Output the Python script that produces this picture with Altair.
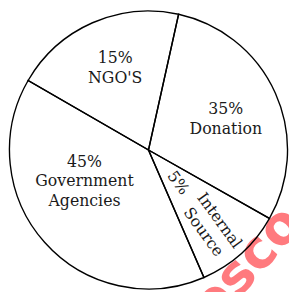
import math
import altair as alt
import pandas as pd

# Slices in drawing order (clockwise from the first radius line near the top)
categories = ["Donation", "Internal Source", "Government Agencies", "NGO'S"]
percent_labels = ["35%", "5%", "45%", "15%"]
name_labels = ["Donation", "Internal\nSource", "Government\nAgencies", "NGO'S"]
# sizes of the slices as drawn in the picture (degrees)
slice_degrees = [107, 37, 143.5, 72.5]
START_DEG = 12.5

df = pd.DataFrame({
    "category": categories,
    "pct": percent_labels,
    "name": name_labels,
    "deg": slice_degrees,
    "order": list(range(len(categories))),
})
df["label"] = df["pct"] + "\n" + df["name"]

start = math.radians(START_DEG)
theta_scale = alt.Scale(domain=[0, 360], range=[start, start + 2 * math.pi], nice=False, zero=True)

base = (
    alt.Chart(df)
    .transform_window(t1="sum(deg)", sort=[alt.SortField("order")], frame=[None, 0])
    .transform_calculate(t0="datum.t1 - datum.deg", mid="datum.t1 - datum.deg / 2")
)

arcs = base.mark_arc(
    radius=141.5, stroke="black", strokeWidth=1.4, fill="white", fillOpacity=0
).encode(
    theta=alt.Theta("t0:Q", scale=theta_scale, stack=False),
    theta2="t1:Q",
)

TEXT_STYLE = dict(font="DejaVu Serif", fontSize=16, lineBreak="\n", lineHeight=20,
                  color="#1a1a1a", align="center", baseline="middle")


def label_layer(cat, field, radius, dx=0, dy=0, angle=0):
    return base.transform_filter(alt.datum.category == cat).mark_text(
        radius=radius, dx=dx, dy=dy, angle=angle, **TEXT_STYLE
    ).encode(
        theta=alt.Theta("mid:Q", scale=theta_scale, stack=False),
        text=alt.Text(f"{field}:N"),
    )


labels = [
    label_layer("NGO'S", "label", 89, dx=2, dy=-12),
    label_layer("Donation", "label", 85, dx=1, dy=-7),
    label_layer("Government Agencies", "label", 90, dx=2, dy=-48),
    label_layer("Internal Source", "name", 97, dx=4, dy=-6, angle=54),
    label_layer("Internal Source", "pct", 45, angle=54),
]

watermark = alt.Chart(pd.DataFrame({"w": ["esco"]})).mark_text(
    font="DejaVu Sans", fontSize=54, fontWeight="bold", color="#ff5a5f",
    opacity=0.8, angle=312, align="center", baseline="middle"
).encode(x=alt.value(244), y=alt.value(259), text="w:N")

chart = alt.layer(watermark, arcs, *labels).properties(
    width=286, height=284,
    autosize=alt.AutoSizeParams(type="none"),
    padding=0,
).configure_view(stroke=None)

chart.save("out.html", embed_options={"renderer": "svg", "actions": False})
